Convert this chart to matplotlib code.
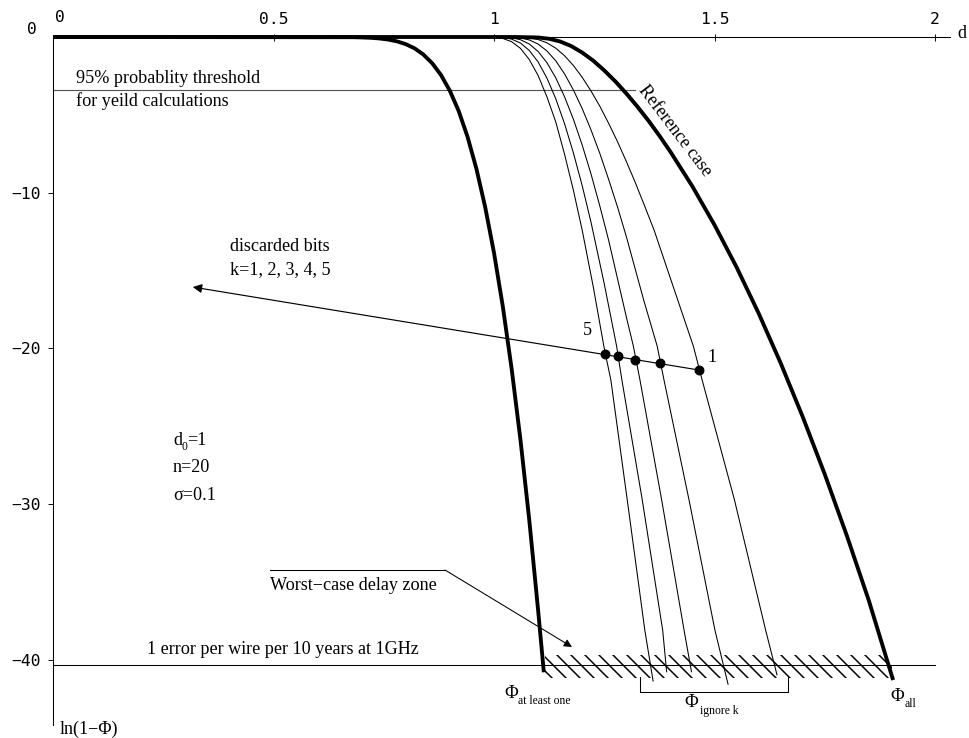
import matplotlib
matplotlib.use('Agg')
import matplotlib.pyplot as plt
from matplotlib.patches import Rectangle

# ---------------- data ----------------
# Phi_all / reference case (thick)
d_all = [0.0, 0.95, 1.05, 1.10, 1.125, 1.15, 1.175, 1.20, 1.225, 1.25, 1.275, 1.30,
         1.325, 1.35, 1.375, 1.40, 1.45, 1.50, 1.55, 1.60, 1.65, 1.70, 1.75,
         1.80, 1.85, 1.905]
y_all = [0, 0, 0, -0.032, -0.114, -0.289, -0.58, -1.0, -1.52, -2.15, -2.85, -3.63,
         -4.47, -5.37, -6.34, -7.37, -9.6, -12.07, -14.78, -17.74, -20.94, -24.39,
         -28.08, -32.02, -36.2, -41.3]
# thin companion of the reference curve near its top
d_ref = [1.05, 1.104, 1.129, 1.154, 1.179, 1.204, 1.229, 1.254, 1.279, 1.304,
         1.329, 1.354, 1.378, 1.402, 1.45]
y_ref = [0, -0.032, -0.114, -0.289, -0.58, -1.0, -1.52, -2.15, -2.85, -3.63,
         -4.47, -5.37, -6.34, -7.37, -9.6]
# Phi_at least one (thick)
d_one = [0.0, 0.68, 0.70, 0.72, 0.74, 0.76, 0.78, 0.80, 0.82, 0.84, 0.86, 0.88,
         0.90, 0.92, 0.94, 0.96, 0.98, 1.00, 1.02, 1.04, 1.06, 1.08, 1.10, 1.113]
y_one = [0, -0.013, -0.027, -0.051, -0.093, -0.165, -0.28, -0.46, -0.73, -1.13,
         -1.69, -2.45, -3.46, -4.76, -6.41, -8.45, -10.92, -13.86, -17.31, -21.31,
         -25.87, -31.03, -36.81, -40.8]
# Phi_ignore k, k = 1..5 (thin)
d_k1 = [1.00, 1.05, 1.08, 1.10, 1.12, 1.14, 1.16, 1.18, 1.20, 1.22, 1.24, 1.26,
        1.28, 1.30, 1.32, 1.34, 1.363, 1.406, 1.452, 1.472, 1.545, 1.616, 1.642]
y_k1 = [0, -0.006, -0.056, -0.163, -0.374, -0.717, -1.203, -1.831, -2.589, -3.47,
        -4.448, -5.547, -6.719, -7.99, -9.32, -10.74, -12.4, -16.0, -19.85, -22.03,
        -29.7, -38.1, -41.0]
d_k2 = [0.98, 1.02, 1.04, 1.06, 1.08, 1.10, 1.12, 1.14, 1.16, 1.18, 1.20, 1.22,
        1.24, 1.26, 1.28, 1.30, 1.34, 1.370, 1.3855, 1.442, 1.501, 1.531]
y_k2 = [0, -0.002, -0.014, -0.06, -0.189, -0.452, -0.894, -1.53, -2.37, -3.40,
        -4.60, -5.97, -7.48, -9.15, -10.91, -12.81, -16.95, -19.85, -22.03, -29.7,
        -38.1, -41.6]
d_k3 = [0.95, 1.00, 1.02, 1.04, 1.06, 1.08, 1.10, 1.12, 1.14, 1.16, 1.18, 1.20,
        1.22, 1.24, 1.26, 1.30, 1.316, 1.331, 1.380, 1.431, 1.448]
y_k3 = [0, -0.001, -0.01, -0.05, -0.174, -0.449, -0.929, -1.65, -2.62, -3.84,
        -5.28, -6.94, -8.80, -10.86, -13.06, -17.97, -19.85, -22.03, -29.7, -38.1,
        -40.8]
d_k4 = [0.96, 1.00, 1.02, 1.04, 1.06, 1.08, 1.10, 1.12, 1.14, 1.16, 1.18, 1.20,
        1.22, 1.25, 1.278, 1.290, 1.336, 1.3825, 1.3916]
y_k4 = [0, -0.006, -0.035, -0.137, -0.388, -0.863, -1.60, -2.64, -3.96, -5.57,
        -7.44, -9.55, -11.9, -15.85, -19.85, -22.03, -29.7, -38.1, -40.8]
d_k5 = [0.95, 1.00, 1.02, 1.04, 1.06, 1.08, 1.10, 1.12, 1.14, 1.16, 1.18, 1.20,
        1.225, 1.25, 1.265, 1.302, 1.342, 1.361]
y_k5 = [0, -0.021, -0.096, -0.30, -0.73, -1.45, -2.47, -3.84, -5.45, -7.53,
        -9.84, -12.41, -16.03, -20.0, -22.03, -29.7, -38.1, -41.4]
# crossing points on the "discarded bits" line (k = 5,4,3,2,1)
dot_d = [1.2517, 1.2818, 1.3197, 1.3764, 1.4649]
dot_y = [-20.36, -20.47, -20.73, -20.96, -21.39]
arrow_end = (0.317, -16.06)
thr95 = -3.40          # 95% probability threshold
thr95_end = 1.320
err_line = -40.33      # 1 error per wire per 10 years at 1GHz
zone_d = (1.1156, 1.902)
zone_y = (-41.16, -39.69)
bracket_d = (1.331, 1.667)
bracket_y = (-41.1, -42.1)

xticks = [0.5, 1, 1.5, 2]
xticklabels = ['0.5', '1', '1.5', '2']
yticks = [-10, -20, -30, -40]
yticklabels = ['\u221210', '\u221220', '\u221230', '\u221240']

# ---------------- layout ----------------
W, H, DPI = 969, 738, 84
X0, XS = 53, 441.0     # pixel of d=0, pixels per unit d
Y0, YS = 37, 15.57     # pixel of y=0, pixels per unit y

plt.rcParams['hatch.linewidth'] = 1.3
SERIF = 'Liberation Serif'
MONO = 'DejaVu Sans Mono'
FS = 15.5

fig = plt.figure(figsize=(W / DPI, H / DPI), dpi=DPI)
fig.patch.set_facecolor('white')
ax = fig.add_axes([0, 0, 1, 1])
ax.set_xlim(-X0 / XS, (W - X0) / XS)
ax.set_ylim(-(H - Y0) / YS, Y0 / YS)

for s in ('bottom', 'right'):
    ax.spines[s].set_visible(False)
ax.spines['top'].set_position(('data', 0))
ax.spines['top'].set_bounds(0, (950 - X0) / XS)
ax.spines['left'].set_position(('data', 0))
ax.spines['left'].set_bounds(-(725 - Y0) / YS, 0)
for s in ('top', 'left'):
    ax.spines[s].set_linewidth(0.9)

ax.xaxis.set_ticks_position('top')
ax.set_xticks(xticks)
ax.set_xticklabels(xticklabels)
ax.set_yticks(yticks)
ax.set_yticklabels(yticklabels)
ax.tick_params(axis='x', direction='inout', length=6, width=0.8, pad=6,
               labelsize=14, labelfontfamily=MONO)
ax.tick_params(axis='y', direction='out', length=4.5, width=0.8, pad=6,
               labelsize=14, labelfontfamily=MONO)


def F(px, py):
    return (px / W, 1 - py / H)


def T(px, py, s, size=FS, ha='left', va='baseline', family=SERIF, **kw):
    fig.text(*F(px, py), s, fontsize=size, ha=ha, va=va, family=family, **kw)


# origin labels
T(32, 30, '0', size=14, ha='center', va='center', family=MONO)
T(60, 17, '0', size=14, ha='center', va='center', family=MONO)
T(962, 33, 'd', ha='center', va='center')
T(60, 734, 'ln(1\u2212\u03a6)')

# reference lines
ax.plot([0, thr95_end], [thr95, thr95], color='#555555', lw=1.0)
ax.plot([0, 2.0], [err_line, err_line], color='black', lw=0.9)

# hatched worst-case zone
ax.add_patch(Rectangle((zone_d[0], zone_y[0]), zone_d[1] - zone_d[0],
                       zone_y[1] - zone_y[0], facecolor='none',
                       edgecolor='black', lw=0, hatch='\\\\'))

# curves
for d, y in ((d_k1, y_k1), (d_k2, y_k2), (d_k3, y_k3), (d_k4, y_k4), (d_k5, y_k5)):
    ax.plot(d, y, color='black', lw=0.9, solid_capstyle='butt')
ax.plot(d_ref, y_ref, color='#444444', lw=0.8)
ax.plot(d_all, y_all, color='black', lw=3.3, solid_capstyle='butt')
ax.plot(d_one, y_one, color='black', lw=3.3, solid_capstyle='butt')

# discarded bits arrow and dots
ax.annotate('', xy=arrow_end, xytext=(dot_d[-1], dot_y[-1]),
            arrowprops=dict(arrowstyle='-|>', color='black', lw=1.0,
                            mutation_scale=16, shrinkA=0, shrinkB=0))
ax.plot(dot_d, dot_y, 'o', color='black', ms=7.5, ls='none')

# bracket under Phi_ignore k
ax.plot([bracket_d[0], bracket_d[0], bracket_d[1], bracket_d[1]],
        [bracket_y[0], bracket_y[1], bracket_y[1], bracket_y[0]],
        color='black', lw=0.9)

# worst-case arrow
p1 = ((445 - X0) / XS, -(570 - Y0) / YS)
p2 = ((572 - X0) / XS, -(647 - Y0) / YS)
ax.plot([(270 - X0) / XS, p1[0]], [p1[1], p1[1]], color='black', lw=0.9)
ax.annotate('', xy=p2, xytext=p1,
            arrowprops=dict(arrowstyle='-|>', color='black', lw=0.9,
                            mutation_scale=14, shrinkA=0, shrinkB=0))

# texts
T(76, 83, '95% probablity threshold')
T(76, 106, 'for yeild calculations')
T(230, 251, 'discarded bits')
T(230, 274, 'k=1, 2, 3, 4, 5')
T(587, 330, '5', ha='center', va='center')
T(712, 357, '1', ha='center', va='center')
T(173, 445, 'd')
T(181, 450, '0', size=10)
T(187, 445, '=1')
T(173, 472, 'n=20')
T(173, 500, '\u03c3=0.1')
T(270, 590, 'Worst\u2212case delay zone')
T(147, 654, '1 error per wire per 10 years at 1GHz')
T(675, 131, 'Reference case', ha='center', va='center', rotation=-52.7,
  rotation_mode='anchor')

T(511, 693, '\u03a6', size=16, ha='center', va='center')
T(518, 704, 'at least one', size=10)
T(691, 702, '\u03a6', size=16, ha='center', va='center')
T(700, 714, 'ignore k', size=10)
T(897, 696, '\u03a6', size=16, ha='center', va='center')
T(905, 707, 'all', size=10)

ax.set_facecolor('white')
fig.savefig('out.png', dpi=DPI, facecolor='white')
